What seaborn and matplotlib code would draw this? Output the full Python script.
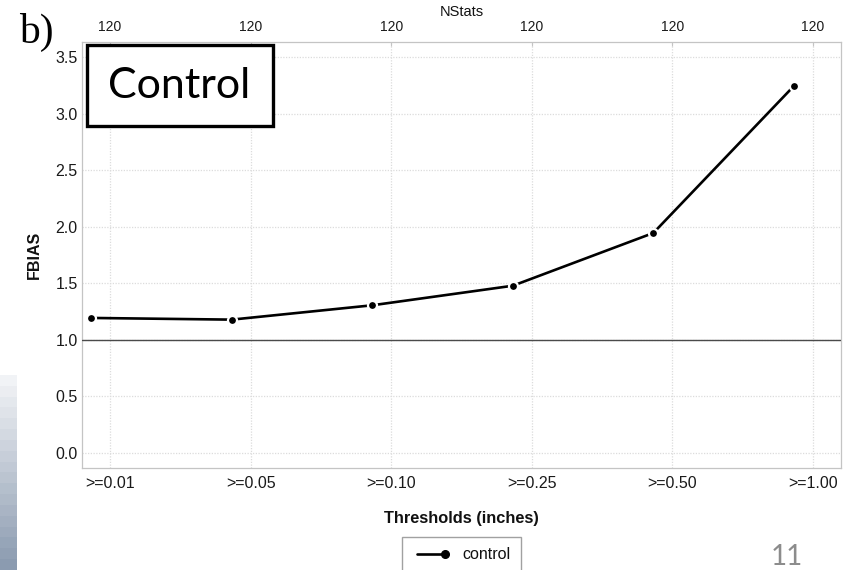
import numpy as np
import pandas as pd
import matplotlib
matplotlib.use("Agg")
import matplotlib.pyplot as plt
from matplotlib.lines import Line2D
from matplotlib.patches import Rectangle
from matplotlib.legend_handler import HandlerLine2D
import seaborn as sns

# data
thresholds = [">=0.01", ">=0.05", ">=0.10", ">=0.25", ">=0.50", ">=1.00"]
fbias = [1.195, 1.18, 1.307, 1.48, 1.947, 3.248]
nstats = [120, 120, 120, 120, 120, 120]
series_name = "control"

sns.set_style("white")
plt.rcParams["font.family"] = ["Liberation Sans", "DejaVu Sans"]

W, H = 861, 570
fig = plt.figure(figsize=(W / 100, H / 100), dpi=100)

def fx(px):
    return px / W

def fy(py):
    return 1 - py / H

ax = fig.add_axes([fx(82), fy(468), fx(841) - fx(82), fy(42) - fy(468)])

# points are drawn slightly left of the category ticks (dodged like the original)
pos = np.arange(len(thresholds))
df = pd.DataFrame({"x": pos - 0.135, "FBIAS": fbias, "model": series_name})

sns.lineplot(data=df, x="x", y="FBIAS", ax=ax, color="black", lw=1.9,
             marker="o", markersize=6.5, markerfacecolor="black",
             markeredgecolor="white", markeredgewidth=1.6, legend=False,
             zorder=4)
ax.axhline(1.0, color="#4a4a4a", lw=1.0, zorder=3)

ax.set_xlim(-0.2, len(thresholds) - 1 + 0.2)
ax.set_ylim(-0.133, 3.637)
ax.set_xticks(pos)
ax.set_xticklabels(thresholds)
ax.set_yticks(np.arange(0, 3.51, 0.5))
ax.set_yticklabels([f"{v:.1f}" for v in np.arange(0, 3.51, 0.5)])
ax.tick_params(axis="both", labelsize=11.5, colors="#1a1a1a", length=0)
ax.tick_params(axis="x", pad=6)
ax.tick_params(axis="y", pad=3)
ax.grid(True, color="#dcdcdc", lw=0.9, linestyle=(0, (1, 1.2)))
for sp in ax.spines.values():
    sp.set_color("#c4c4c4")
    sp.set_linewidth(0.9)

ax.set_xlabel("Thresholds (inches)", fontsize=11.8, fontweight="bold",
              labelpad=14, color="#111111")
ax.set_ylabel("FBIAS", fontsize=11.5, fontweight="bold", labelpad=10,
              color="#111111")

# top axis with sample counts
top = ax.twiny()
top.set_xlim(ax.get_xlim())
top.set_xticks(pos)
top.set_xticklabels([str(n) for n in nstats])
top.tick_params(axis="x", labelsize=10, colors="#1a1a1a", length=3, direction="in",
                pad=6)
top.tick_params(axis="x", which="major", color="#c4c4c4")
top.set_xlabel("NStats", fontsize=10.5, labelpad=3, color="#111111")
for sp in top.spines.values():
    sp.set_visible(False)


def right_marker(handle, orig):
    handle.update_from(orig)
    handle.set_markevery([1])


# legend under the axes, marker at the right end of the line
handle = Line2D([], [], color="black", lw=1.9, marker="o", markersize=5.5)
leg = fig.legend([handle], [series_name], loc="upper center",
                 bbox_to_anchor=(fx(461.5), fy(537)), numpoints=2,
                 handler_map={Line2D: HandlerLine2D(update_func=right_marker)},
                 fontsize=11.5, frameon=True, fancybox=False, handlelength=2.3,
                 handletextpad=0.8, borderpad=0.65, borderaxespad=0)
leg.get_frame().set_edgecolor("#8a8a8a")
leg.get_frame().set_linewidth(1.0)
for t in leg.get_texts():
    t.set_color("#111111")

# slide decorations
fig.text(fx(19), fy(43), "b)", fontsize=30, family="Liberation Serif",
         ha="left", va="baseline", color="black")

box = Rectangle((fx(86.7), fy(126)), fx(273) - fx(86.7), fy(45) - fy(126),
                transform=fig.transFigure, facecolor="white", edgecolor="black",
                lw=2.4, zorder=10)
fig.add_artist(box)
fig.text(fx(179), fy(86), "Control", fontsize=31, family="Lato", color="black",
         ha="center", va="center", zorder=11)

fig.text(fx(787), fy(557), "11", fontsize=20, family="Lato", color="#8c8c8c",
         ha="center", va="center")

# blue gradient strip on the left edge
gax = fig.add_axes([0, 0, fx(17), fy(375)])
steps = 18
c0 = np.array([0xf1, 0xf3, 0xf6]) / 255
c1 = np.array([0x8b, 0x9b, 0xb0]) / 255
grad = np.array([c0 + (c1 - c0) * t for t in np.linspace(0, 1, steps)])[:, None, :]
gax.imshow(grad, aspect="auto", interpolation="nearest")
gax.axis("off")

fig.savefig("out.png", dpi=100)
